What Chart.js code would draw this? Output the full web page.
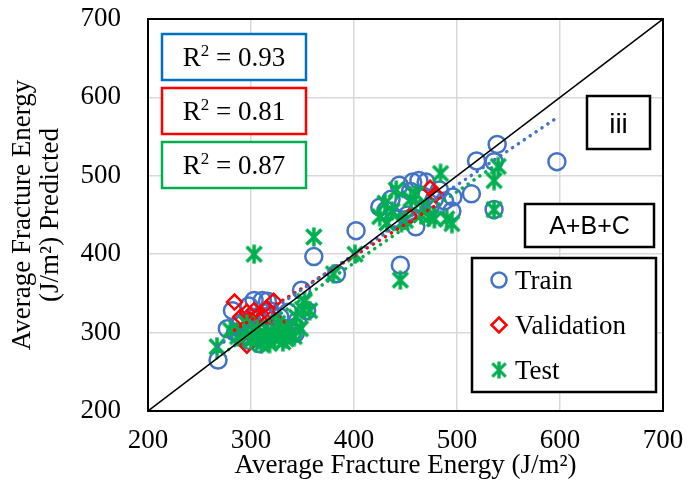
<!DOCTYPE html>
<html>
<head>
<meta charset="utf-8">
<script src="https://cdn.jsdelivr.net/npm/chart.js@4.4.0/dist/chart.umd.min.js"></script>
<style>
  html, body { margin: 0; padding: 0; background: #fff; }
  #wrap { width: 690px; height: 484px; }
</style>
</head>
<body>
<div id="wrap"><canvas id="chart" width="690" height="484"></canvas></div>
<script>
// axis ticks (J/m2)
const axisTicks = [200, 300, 400, 500, 600, 700];

const trainActual = [268, 277, 282, 285, 290, 296, 300, 303, 306, 311, 314, 318, 320, 324, 328, 332, 336, 340, 343, 349, 354, 345, 290, 298, 308, 316, 298,
  361, 383, 402, 445,
  425, 431, 436, 440, 444, 448, 452, 455, 457, 460, 463, 466, 470, 474, 478, 483, 488, 495, 496, 514, 519, 536, 536, 539, 597];
const trainPredicted = [265, 305, 328, 300, 312, 303, 318, 341, 295, 341, 325, 328, 300, 310, 320, 303, 326, 300, 299, 354, 328, 315, 295, 290, 286, 340, 334,
  397, 375, 430, 386,
  460, 456, 470, 445, 488, 465, 450, 480, 492, 435, 494, 475, 492, 460, 470, 482, 468, 455, 473, 477, 519, 518, 457, 540, 518];

const valActual = [284, 322, 296, 303, 309, 315, 290, 299, 325, 296, 306, 318, 330, 312, 454, 474, 479];
const valPredicted = [339, 340, 326, 328, 324, 331, 320, 316, 314, 284, 320, 322, 305, 318, 448, 484, 476];

const testActual = [267, 280, 287, 293, 296, 300, 303, 306, 310, 313, 316, 320, 323, 326, 328, 331, 335, 338, 342, 344, 350, 357, 352, 318, 308, 334, 348,
  303, 361, 380, 401, 445,
  425, 430, 432, 437, 441, 446, 450, 455, 460, 465, 470, 473, 478, 484, 490, 495, 536, 540, 536];
const testPredicted = [282, 303, 295, 300, 311, 290, 294, 305, 285, 298, 290, 300, 292, 312, 294, 288, 305, 299, 295, 320, 330, 328, 340, 286, 298, 292, 305,
  400, 422, 375, 400, 367,
  448, 465, 440, 455, 482, 440, 443, 470, 477, 450, 460, 448, 445, 503, 445, 439, 494, 512, 457];

// linear trendlines (endpoints) and 1:1 line
const trainTrendX = [268, 597], trainTrendY = [283, 574];
const valTrendX = [284, 479], valTrendY = [303, 462];
const testTrendX = [267, 540], testTrendY = [268, 516];
const lineX = [200, 700], lineY = [200, 700];

const r2Values = ['0.93', '0.81', '0.87'];
const seriesNames = ['Train', 'Validation', 'Test'];

const toPts = (xs, ys) => xs.map((x, i) => ({ x: x, y: ys[i] }));

const BLUE = '#4472C4', RED = '#FF0000', GREEN = '#00B050';
const SERIF = '"Liberation Serif", "Times New Roman", serif';
const SANS = '"Liberation Sans", Arial, sans-serif';

function asterisk(size, color, lw) {
  const c = document.createElement('canvas');
  c.width = size; c.height = size;
  const g = c.getContext('2d');
  g.strokeStyle = color;
  g.lineWidth = lw;
  const m = 2.5;
  g.beginPath();
  g.moveTo(m, m); g.lineTo(size - m, size - m);
  g.moveTo(size - m, m); g.lineTo(m, size - m);
  g.moveTo(size / 2, 0.5); g.lineTo(size / 2, size - 0.5);
  g.stroke();
  return c;
}
const star = asterisk(20, GREEN, 3.5);

function box(ctx, x1, y1, x2, y2, color) {
  ctx.fillStyle = '#fff';
  ctx.fillRect(x1, y1, x2 - x1, y2 - y1);
  ctx.strokeStyle = color;
  ctx.lineWidth = 2.5;
  ctx.strokeRect(x1, y1, x2 - x1, y2 - y1);
}

function r2Text(ctx, value, cx, cy) {
  const big = '27px ' + SERIF, small = '17px ' + SERIF;
  const rest = ' = ' + value;
  ctx.font = big;
  const wR = ctx.measureText('R').width, wRest = ctx.measureText(rest).width;
  ctx.font = small;
  const w2 = ctx.measureText('2').width;
  let x = cx - (wR + w2 + wRest) / 2;
  const base = cy + 9;
  ctx.fillStyle = '#000';
  ctx.textAlign = 'left';
  ctx.textBaseline = 'alphabetic';
  ctx.font = big; ctx.fillText('R', x, base); x += wR;
  ctx.font = small; ctx.fillText('2', x, base - 10); x += w2;
  ctx.font = big; ctx.fillText(rest, x, base);
}

const overlay = {
  id: 'overlay',
  afterDatasetsDraw(chart) {
    const { ctx, chartArea: a } = chart;
    ctx.save();
    ctx.strokeStyle = '#000';
    ctx.lineWidth = 2;
    ctx.strokeRect(a.left, a.top, a.right - a.left, a.bottom - a.top);

    const colors = ['#0070C0', RED, GREEN];
    const tops = [34, 88, 142];
    r2Values.forEach((v, i) => {
      box(ctx, 162, tops[i], 306, tops[i] + 46, colors[i]);
      r2Text(ctx, v, 234, tops[i] + 23);
    });

    box(ctx, 587, 96, 650, 149, '#000');
    ctx.fillStyle = '#000';
    ctx.textAlign = 'center';
    ctx.textBaseline = 'alphabetic';
    ctx.font = '28px ' + SANS;
    ctx.fillText('iii', 618.5, 133);

    box(ctx, 525, 204, 654, 247, '#000');
    ctx.fillStyle = '#000';
    ctx.font = '25px ' + SANS;
    ctx.fillText('A+B+C', 589.5, 234);

    // legend
    box(ctx, 472, 258, 656, 392, '#000');
    const ys = [280, 325, 370];
    const mx = 499;
    ctx.lineWidth = 2.5;
    ctx.strokeStyle = BLUE;
    ctx.beginPath(); ctx.arc(mx, ys[0], 7.5, 0, Math.PI * 2); ctx.stroke();
    ctx.strokeStyle = RED;
    ctx.beginPath();
    ctx.moveTo(mx - 7.5, ys[1]); ctx.lineTo(mx, ys[1] - 7.5); ctx.lineTo(mx + 7.5, ys[1]); ctx.lineTo(mx, ys[1] + 7.5);
    ctx.closePath(); ctx.stroke();
    ctx.drawImage(star, mx - 9, ys[2] - 9, 18, 18);
    ctx.fillStyle = '#000';
    ctx.textAlign = 'left';
    ctx.font = '27px ' + SERIF;
    seriesNames.forEach((n, i) => ctx.fillText(n, 515, ys[i] + 9));
    ctx.restore();
  }
};

const dotted = (color) => ({
  borderColor: color, borderWidth: 3.5, borderDash: [0.1, 7], borderCapStyle: 'round',
  showLine: true, pointRadius: 0, order: 0, fill: false
});

new Chart(document.getElementById('chart'), {
  type: 'scatter',
  data: {
    datasets: [
      { label: '1:1', data: toPts(lineX, lineY), showLine: true, pointRadius: 0, borderColor: '#000', borderWidth: 1.5, order: 0 },
      Object.assign({ label: 'Train trend', data: toPts(trainTrendX, trainTrendY) }, dotted(BLUE)),
      Object.assign({ label: 'Validation trend', data: toPts(valTrendX, valTrendY) }, dotted(RED)),
      Object.assign({ label: 'Test trend', data: toPts(testTrendX, testTrendY) }, dotted(GREEN)),
      { label: 'Test', data: toPts(testActual, testPredicted), pointStyle: star, order: 1 },
      { label: 'Validation', data: toPts(valActual, valPredicted), pointStyle: 'rectRot', pointRadius: 7.5,
        borderColor: RED, borderWidth: 2.5, backgroundColor: 'rgba(0,0,0,0)', order: 2 },
      { label: 'Train', data: toPts(trainActual, trainPredicted), pointStyle: 'circle', pointRadius: 8.5,
        borderColor: BLUE, borderWidth: 2.5, backgroundColor: 'rgba(0,0,0,0)', order: 3 }
    ]
  },
  options: {
    responsive: false,
    animation: false,
    layout: { padding: { top: 19, right: 27, left: 0, bottom: 0 } },
    plugins: { legend: { display: false }, tooltip: { enabled: false } },
    scales: {
      x: {
        type: 'linear', min: 200, max: 700,
        afterBuildTicks: s => { s.ticks = axisTicks.map(v => ({ value: v })); },
        afterFit: s => { s.height = 73; s.paddingLeft = 0; s.paddingRight = 0; },
        grid: { color: '#d9d9d9', lineWidth: 1.5, drawTicks: false },
        border: { display: true, color: '#000', width: 2 },
        ticks: { color: '#000', font: { family: SERIF, size: 27 }, padding: 14, maxRotation: 0 },
        title: { display: true, text: 'Average Fracture Energy (J/m²)', color: '#000',
          font: { family: SERIF, size: 27, lineHeight: 1 }, padding: { top: 0, bottom: 5 } }
      },
      y: {
        type: 'linear', min: 200, max: 700,
        afterBuildTicks: s => { s.ticks = axisTicks.map(v => ({ value: v })); },
        afterFit: s => { s.width = 148; s.paddingTop = 0; s.paddingBottom = 0; },
        grid: { color: '#d9d9d9', lineWidth: 1.5, drawTicks: false },
        border: { display: true, color: '#000', width: 2 },
        ticks: { color: '#000', font: { family: SERIF, size: 27 }, padding: 27 },
        title: { display: true, text: ['Average Fracture Energy', '(J/m²) Predicted'], color: '#000',
          font: { family: SERIF, size: 27, lineHeight: 1.04 }, padding: { top: 9, bottom: 0 } }
      }
    }
  },
  plugins: [overlay]
});
</script>
</body>
</html>
